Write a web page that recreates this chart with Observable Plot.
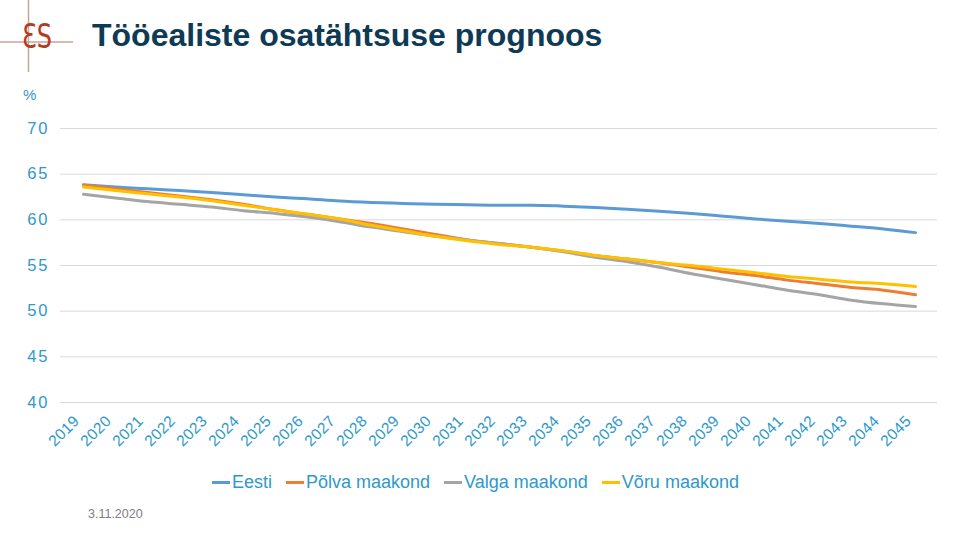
<!DOCTYPE html>
<html><head><meta charset="utf-8">
<script src="https://cdn.jsdelivr.net/npm/d3@7"></script>
<script src="https://cdn.jsdelivr.net/npm/@observablehq/plot@0.6"></script>
<style>
body{margin:0;background:#fff;font-family:"Liberation Sans",Arial,sans-serif;}
#wrap{width:960px;height:540px;position:relative;overflow:hidden;background:#fff;}
#header{position:relative;height:110px;}
#chart{height:350px;}
#legend{position:absolute;left:212px;top:470px;height:24px;display:flex;align-items:center;font-size:18px;color:#2f98cc;white-space:nowrap;}
#legend .item{display:flex;align-items:center;margin-right:14px;}
#legend .sw{display:inline-block;width:18px;height:3px;margin-right:2px;}
#date{position:absolute;left:88px;top:507px;font-size:12.5px;color:#808080;}
</style></head><body>
<div id="wrap">
  <div id="header">
    <svg width="960" height="110" style="position:absolute;left:0;top:0">
      <line x1="0" y1="42" x2="73" y2="42" stroke="#c9a496" stroke-width="1.5"/>
      <line x1="28.5" y1="0" x2="28.5" y2="72" stroke="#c9a496" stroke-width="1.5"/>
      <text x="22" y="48" font-size="34" fill="#b43a22" font-family="DejaVu Sans" textLength="30" lengthAdjust="spacingAndGlyphs">ƐS</text>
      <text x="92" y="46" font-size="32" font-weight="bold" fill="#0f3a55" font-family="Liberation Sans, Arial, sans-serif">Tööealiste osatähtsuse prognoos</text>
      <text x="23" y="100" font-size="15" fill="#2f98cc" font-family="Liberation Sans, Arial, sans-serif">%</text>
    </svg>
  </div>
  <div id="chart"></div>
  <div id="legend"></div>
  <div id="date">3.11.2020</div>
</div>
<script>
const years = ["2019","2020","2021","2022","2023","2024","2025","2026","2027","2028","2029","2030","2031","2032","2033","2034","2035","2036","2037","2038","2039","2040","2041","2042","2043","2044","2045"];
const seriesNames = ["Eesti","Põlva maakond","Valga maakond","Võru maakond"];
const seriesColors = ["#5b9bd5","#ed7d31","#a5a5a5","#ffc000"];
const eesti = [63.85,63.6,63.4,63.2,63.0,62.75,62.5,62.3,62.05,61.9,61.8,61.7,61.65,61.6,61.6,61.5,61.35,61.15,60.95,60.7,60.4,60.1,59.85,59.6,59.3,59.0,58.6];
const polva = [63.8,63.4,63.0,62.6,62.2,61.7,61.1,60.6,60.1,59.6,59.0,58.4,57.8,57.4,57.0,56.6,56.1,55.7,55.3,54.8,54.3,53.9,53.4,53.0,52.6,52.3,51.8];
const valga = [62.8,62.4,62.0,61.7,61.4,61.0,60.7,60.3,59.8,59.2,58.7,58.2,57.8,57.4,57.0,56.5,55.9,55.4,54.8,54.1,53.5,52.9,52.3,51.8,51.2,50.8,50.5];
const voru  = [63.6,63.2,62.85,62.5,62.1,61.6,61.1,60.6,60.1,59.4,58.8,58.2,57.7,57.3,57.0,56.6,56.1,55.7,55.3,55.0,54.6,54.2,53.8,53.5,53.2,53.0,52.7];
const yTicks = [40,45,50,55,60,65,70];

const seriesValues = [eesti, polva, valga, voru];
const data = [];
seriesValues.forEach((vals, s) => vals.forEach((v, i) => data.push({year: years[i], value: v, series: seriesNames[s]})));

const chart = Plot.plot({
  width: 960, height: 350,
  marginTop: 18, marginBottom: 58, marginLeft: 60, marginRight: 23,
  style: {fontFamily: "Liberation Sans, Arial, sans-serif", color: "#2f98cc", background: "transparent"},
  x: {type: "point", domain: years, padding: 0.5},
  y: {domain: [40, 70]},
  color: {domain: seriesNames, range: seriesColors},
  marks: [
    Plot.gridY(yTicks, {stroke: "#d9d9d9", strokeOpacity: 1}),
    Plot.axisY(yTicks, {tickSize: 0, tickPadding: 11, fontSize: 16.5, label: null}),
    Plot.axisX({tickSize: 0, tickRotate: -45, tickPadding: 6, fontSize: 15.5, label: null, dx: -7, dy: 10}),
    Plot.line(data, {x: "year", y: "value", z: "series", stroke: "series", strokeWidth: 3, curve: "monotone-x"})
  ]
});
document.getElementById("chart").appendChild(chart);
// letter spacing for tick labels
chart.querySelectorAll("text").forEach(el => {
  const t = el.textContent.trim();
  if (t.length === 4) { el.setAttribute("letter-spacing", "0.3"); }
  else if (t.length === 2) { el.setAttribute("letter-spacing", "2"); el.style.letterSpacing = "2px"; }
});

const legend = document.getElementById("legend");
seriesNames.forEach((n, i) => {
  const it = document.createElement("div");
  it.className = "item";
  const sw = document.createElement("span");
  sw.className = "sw";
  sw.style.background = seriesColors[i];
  const t = document.createElement("span");
  t.textContent = n;
  it.appendChild(sw); it.appendChild(t);
  legend.appendChild(it);
});
</script>
</body></html>
